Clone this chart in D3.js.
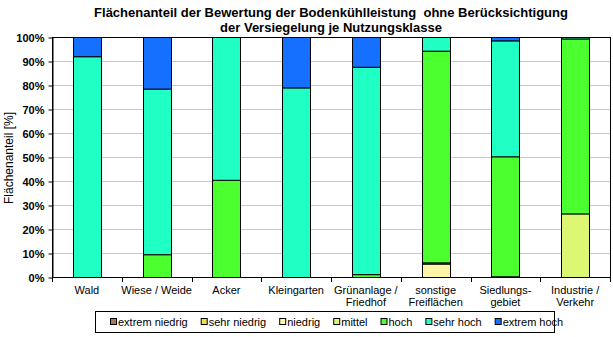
<!DOCTYPE html>
<html><head><meta charset="utf-8">
<script src="https://cdn.jsdelivr.net/npm/d3@7"></script>
<style>body{margin:0;background:#fff}svg{display:block;font-family:"Liberation Sans",Arial,sans-serif}</style>
</head><body><svg id="c" width="613" height="337"></svg>
<script>
const categories = [["Wald"],["Wiese / Weide"],["Acker"],["Kleingarten"],["Grünanlage /","Friedhof"],["sonstige","Freiflächen"],["Siedlungs-","gebiet"],["Industrie /","Verkehr"]];
const seriesNames = ["extrem niedrig","sehr niedrig","niedrig","mittel","hoch","sehr hoch","extrem hoch"];
const seriesColors = ["#A57A5A","#F2DC4A","#FFF5A8","#DCF872","#4CFF2E","#20FFC4","#1670FF"];
const extremNiedrig = [0,0,0,0,0,0,0,0];
const sehrNiedrig   = [0,0,0,0,0,0,0,0];
const niedrig       = [0,0,0,0,0,5.6,0,0];
const mittel        = [0,0,0,0,0,0.5,0.3,26.5];
const hoch          = [0,9.5,40.5,0,1.2,88.2,50.0,72.9];
const sehrHoch      = [92,69,59.5,79,86.4,5.7,48.3,0.6];
const extremHoch    = [8,21.5,0,21,12.4,0,1.4,0];
const yTicks = [0,10,20,30,40,50,60,70,80,90,100];

const seriesValues = [extremNiedrig,sehrNiedrig,niedrig,mittel,hoch,sehrHoch,extremHoch];
const svg = d3.select("#c");
const L=52,R=610,T=37,B=277;
const x = d3.scaleBand().domain(d3.range(categories.length)).range([L,R]).paddingInner(0.6).paddingOuter(0.3);
const xb = d3.scaleBand().domain(d3.range(categories.length)).range([L,R]);
const y = d3.scaleLinear().domain([0,100]).range([B,T]);

// title
svg.append("text").attr("x",331).attr("y",17).attr("text-anchor","middle").attr("font-size",13).attr("font-weight","bold").attr("xml:space","preserve").text("Flächenanteil der Bewertung der Bodenkühlleistung  ohne Berücksichtigung");
svg.append("text").attr("x",331).attr("y",32).attr("text-anchor","middle").attr("font-size",13).attr("font-weight","bold").text("der Versiegelung je Nutzungsklasse");

// grid
svg.append("g").selectAll("line").data(yTicks.filter(d=>d>0&&d<100)).join("line")
 .attr("x1",L).attr("x2",R).attr("y1",d=>y(d)+0.5).attr("y2",d=>y(d)+0.5).attr("stroke","#C8C8C8");

// y axis
const ya = svg.append("g").attr("transform",`translate(${L+0.5},0.5)`)
 .call(d3.axisLeft(y).tickValues(yTicks).tickFormat(d=>d+"%").tickSize(4).tickSizeOuter(0));
ya.select(".domain").attr("stroke","#000");
ya.selectAll("text").attr("font-size",11).attr("font-weight","bold").attr("font-family","Liberation Sans, Arial").attr("fill","#000").attr("dx","-1");
svg.append("text").attr("transform","translate(13,158) rotate(-90)").attr("text-anchor","middle").attr("font-size",12).text("Flächenanteil [%]");

// stacks
const stackData = categories.map((c,i)=>{const o={i};seriesNames.forEach((s,k)=>o[s]=seriesValues[k][i]);return o;});
const stacked = d3.stack().keys(seriesNames)(stackData);
svg.append("g").selectAll("g").data(stacked).join("g").attr("fill",(d,k)=>seriesColors[k])
 .selectAll("rect").data(d=>d.filter(p=>p[1]-p[0]>0)).join("rect")
 .attr("x",d=>Math.round(x(d.data.i))+0.5).attr("width",Math.round(x.bandwidth()))
 .attr("y",d=>y(d[1])+0.5).attr("height",d=>y(d[0])-y(d[1]))
 .attr("stroke","#000").attr("stroke-width",1);

// box
svg.append("rect").attr("x",L+0.5).attr("y",T+0.5).attr("width",R-L).attr("height",B-T).attr("fill","none").attr("stroke","#000");

// x axis ticks between categories
svg.append("g").selectAll("line").data(d3.range(categories.length+1)).join("line")
 .attr("x1",d=>Math.round(L+d*xb.step())+0.5).attr("x2",d=>Math.round(L+d*xb.step())+0.5)
 .attr("y1",B).attr("y2",B+5).attr("stroke","#000");
const xl = svg.append("g");
categories.forEach((c,i)=>{
  c.forEach((line,j)=>{
    xl.append("text").attr("x",xb(i)+xb.bandwidth()/2).attr("y",293.5+j*12).attr("text-anchor","middle").attr("font-size",11).text(line);
  });
});

// legend
const lg = svg.append("g");
lg.append("rect").attr("x",95.5).attr("y",311.5).attr("width",459).attr("height",21).attr("fill","#fff").attr("stroke","#000");
let lx = 110;
seriesNames.forEach((s,k)=>{
  lg.append("rect").attr("x",lx+0.5).attr("y",318.5).attr("width",6).attr("height",6).attr("fill",seriesColors[k]).attr("stroke","#000");
  const t = lg.append("text").attr("x",lx+8).attr("y",325.5).attr("font-size",11).text(s);
  lx += 8 + t.node().getComputedTextLength() + 13;
});
</script></body></html>
